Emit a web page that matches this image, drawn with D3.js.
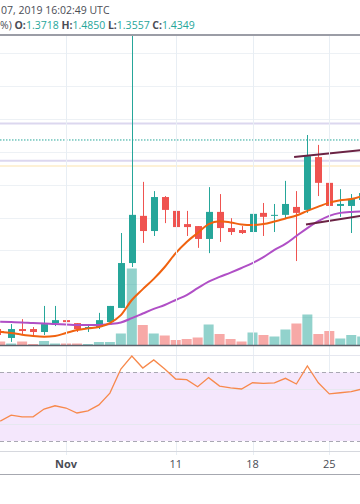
<!DOCTYPE html>
<html>
<head>
<meta charset="utf-8">
<script src="https://cdn.jsdelivr.net/npm/d3@7"></script>
<style>
  html, body { margin: 0; padding: 0; background: #fff; }
  svg { display: block; }
</style>
</head>
<body>
<div id="chart"></div>
<script>
// daily candles, Oct 26 .. Nov 28 2019
const dates = ["2019-10-26","2019-10-27","2019-10-28","2019-10-29","2019-10-30","2019-10-31",
  "2019-11-01","2019-11-02","2019-11-03","2019-11-04","2019-11-05","2019-11-06","2019-11-07",
  "2019-11-08","2019-11-09","2019-11-10","2019-11-11","2019-11-12","2019-11-13","2019-11-14",
  "2019-11-15","2019-11-16","2019-11-17","2019-11-18","2019-11-19","2019-11-20","2019-11-21",
  "2019-11-22","2019-11-23","2019-11-24","2019-11-25","2019-11-26","2019-11-27","2019-11-28"];
const open  = [0.856,0.835,0.862,0.862,0.853,0.880,0.889,0.880,0.865,0.868,0.883,0.926,1.062,
  1.205,1.159,1.262,1.220,1.180,1.174,1.135,1.217,1.168,1.162,1.156,1.214,1.205,1.208,
  1.232,1.223,1.383,1.305,1.235,1.235,1.253];
const high  = [0.862,0.877,0.892,0.868,0.932,0.932,0.895,0.880,0.874,0.911,0.932,1.153,1.820,
  1.308,1.280,1.265,1.247,1.220,1.174,1.292,1.271,1.198,1.174,1.256,1.244,1.241,1.311,
  1.280,1.450,1.420,1.326,1.286,1.271,1.290];
const low   = [0.844,0.823,0.844,0.844,0.844,0.871,0.874,0.853,0.853,0.862,0.883,0.926,1.050,
  1.123,1.144,1.183,1.168,1.144,1.108,1.092,1.126,1.147,1.150,1.153,1.144,1.156,1.195,
  1.068,1.214,1.265,1.198,1.202,1.153,1.240];
const close = [0.850,0.862,0.856,0.853,0.877,0.889,0.883,0.862,0.868,0.889,0.932,1.062,1.208,
  1.159,1.262,1.223,1.171,1.171,1.135,1.217,1.168,1.156,1.153,1.211,1.202,1.208,1.241,
  1.214,1.386,1.305,1.235,1.241,1.256,1.274];
const volume = [0.7,0.3,0.7,0.2,0.8,0.3,0.3,0.3,0.2,0.6,0.6,2.3,15.3,
  4.0,2.3,1.9,1.0,1.2,1.5,4.1,2.2,1.2,0.7,2.5,2.0,1.7,3.1,
  4.3,6.1,2.2,2.8,1.3,2.0,1.7];
// moving averages (orange fast, purple slow)
const maFast = [0.854,0.850,0.845,0.841,0.839,0.841,0.850,0.859,0.864,0.868,0.880,0.904,0.950,
  0.983,1.014,1.050,1.092,1.126,1.153,1.180,1.189,1.185,1.179,1.177,1.180,1.188,1.197,
  1.206,1.220,1.233,1.245,1.252,1.256,1.265];
const maSlow = [0.884,0.883,0.882,0.880,0.879,0.877,0.876,0.874,0.874,0.874,0.877,0.882,0.895,
  0.909,0.923,0.935,0.950,0.965,0.986,1.006,1.020,1.033,1.047,1.062,1.080,1.102,1.120,
  1.144,1.168,1.189,1.205,1.214,1.217,1.218];
const rsi = [41.6,45.1,44.1,44.1,48.6,50.5,49.2,46.3,47.6,51.0,57.9,71.9,79.5,
  72.5,77.2,71.9,66.1,65.7,61.6,66.9,62.0,60.9,60.3,63.9,63.6,63.9,66.5,
  63.2,73.7,63.9,57.4,58.1,58.7,60.3];

// price levels of the current bar
const levelHigh = 1.4850, levelOpen = 1.3718, levelLow = 1.3557, levelClose = 1.4349;
// channel lines [date, price]
const upperTrend = [["2019-11-21T19:00Z", 1.383], ["2019-11-29T00:00Z", 1.408]];
const lowerTrend = [["2019-11-22T21:00Z", 1.179], ["2019-11-29T00:00Z", 1.211]];

const priceTicks = [0.9, 1.0, 1.1, 1.2, 1.3, 1.4, 1.5, 1.6, 1.7];
const rsiGrid = [40, 60, 80];
const rsiBands = [30, 70];
const timeTicks = ["2019-11-01", "2019-11-11", "2019-11-18", "2019-11-25"];
const timeLabels = ["Nov", "11", "18", "25"];

const W = 360, H = 504;
const up = "#26a69a", down = "#ef5350";
const font = "'Open Sans', sans-serif";

const data = dates.map((d, i) => ({
  date: new Date(d + "T00:00Z"), o: open[i], h: high[i], l: low[i], c: close[i],
  v: volume[i], fast: maFast[i], slow: maSlow[i], rsi: rsi[i]
}));

const x = d3.scaleUtc()
  .domain([new Date("2019-11-01T00:00Z"), new Date("2019-11-25T00:00Z")])
  .range([66, 329.3]);
const y = d3.scaleLinear().domain([0.8, 1.8]).range([349.5, 19.5]);
const yVol = d3.scaleLinear().domain([0, 20]).range([345, 245]);
const yRsi = d3.scaleLinear().domain([30, 70]).range([441, 372.3]);

const paneTop = 36, paneBottom = 345, rsiTop = 347, rsiBottom = 451;

const svg = d3.select("#chart").append("svg")
  .attr("width", W).attr("height", H);

svg.append("rect").attr("width", W).attr("height", H).attr("fill", "#fff");

const defs = svg.append("defs");
defs.append("clipPath").attr("id", "main")
  .append("rect").attr("x", 0).attr("y", paneTop).attr("width", W).attr("height", paneBottom - paneTop);
defs.append("clipPath").attr("id", "rsiClip")
  .append("rect").attr("x", 0).attr("y", rsiTop).attr("width", W).attr("height", rsiBottom - rsiTop);

// header
const hdr = svg.append("g").attr("font-family", font).attr("font-size", 10.5).attr("fill", "#4a4c55");
hdr.append("text").attr("x", 1).attr("y", 14).text("07, 2019 16:02:49 UTC");
const t2 = hdr.append("text").attr("x", 0).attr("y", 29);
t2.append("tspan").text("%) ");
[["O:", "1.3718"], ["H:", "1.4850"], ["L:", "1.3557"], ["C:", "1.4349"]].forEach(([k, v], i) => {
  t2.append("tspan").attr("font-weight", "bold").text((i ? " " : "") + k);
  t2.append("tspan").attr("fill", up).text(v);
});

svg.append("line").attr("x1", 0).attr("x2", W).attr("y1", 35).attr("y2", 35)
  .attr("stroke", "#7a7d88").attr("stroke-width", 1.5);

// grid - main pane
const main = svg.append("g").attr("clip-path", "url(#main)");
main.append("g").selectAll("line").data(priceTicks).join("line")
  .attr("x1", 0).attr("x2", W)
  .attr("y1", d => Math.round(y(d)) + 0.5).attr("y2", d => Math.round(y(d)) + 0.5)
  .attr("stroke", "#edf1f5");
const tickDates = timeTicks.map(d => new Date(d + "T00:00Z"));
svg.append("g").selectAll("line").data(tickDates).join("line")
  .attr("x1", d => Math.round(x(d)) + 0.5).attr("x2", d => Math.round(x(d)) + 0.5)
  .attr("y1", paneTop).attr("y2", rsiBottom + 4)
  .attr("stroke", "#e8eef4");

// levels
const lev = main.append("g");
[levelHigh, levelOpen].forEach(p => lev.append("line")
  .attr("x1", 0).attr("x2", W).attr("y1", y(p)).attr("y2", y(p))
  .attr("stroke", "#dcd7ef").attr("stroke-width", 2));
lev.append("line").attr("x1", 0).attr("x2", W).attr("y1", y(levelLow)).attr("y2", y(levelLow))
  .attr("stroke", "#fdf1d6").attr("stroke-width", 2);
lev.append("line").attr("x1", 0).attr("x2", W).attr("y1", y(levelClose)).attr("y2", y(levelClose))
  .attr("stroke", up).attr("stroke-width", 1).attr("stroke-dasharray", "1.5,1.5");

// volume
main.append("g").selectAll("rect").data(data).join("rect")
  .attr("x", d => x(d.date) - 5).attr("width", 10)
  .attr("y", d => yVol(d.v)).attr("height", d => yVol(0) - yVol(d.v))
  .attr("fill", d => d.c >= d.o ? "rgba(38,166,154,0.5)" : "rgba(239,83,80,0.5)");

// candles
const candles = main.append("g").selectAll("g").data(data).join("g");
candles.append("line")
  .attr("x1", d => Math.round(x(d.date)) + 0.5).attr("x2", d => Math.round(x(d.date)) + 0.5)
  .attr("y1", d => y(d.h)).attr("y2", d => y(d.l))
  .attr("stroke", d => d.c >= d.o ? up : down);
candles.append("rect")
  .attr("x", d => Math.round(x(d.date)) - 3).attr("width", 7)
  .attr("y", d => y(Math.max(d.o, d.c)))
  .attr("height", d => Math.max(1, Math.abs(y(d.o) - y(d.c))))
  .attr("fill", d => d.c >= d.o ? up : down);

// moving averages
const lineFast = d3.line().x(d => x(d.date)).y(d => y(d.fast)).curve(d3.curveMonotoneX);
const lineSlow = d3.line().x(d => x(d.date)).y(d => y(d.slow)).curve(d3.curveMonotoneX);
main.append("path").datum(data).attr("d", lineSlow)
  .attr("fill", "none").attr("stroke", "#b04fc6").attr("stroke-width", 2);
main.append("path").datum(data).attr("d", lineFast)
  .attr("fill", "none").attr("stroke", "#f0620f").attr("stroke-width", 2);

// trend lines
[upperTrend, lowerTrend].forEach(t => main.append("line")
  .attr("x1", x(new Date(t[0][0]))).attr("y1", y(t[0][1]))
  .attr("x2", x(new Date(t[1][0]))).attr("y2", y(t[1][1]))
  .attr("stroke", "#6b2344").attr("stroke-width", 2));

// pane separator
svg.append("line").attr("x1", 0).attr("x2", W).attr("y1", 345.5).attr("y2", 345.5)
  .attr("stroke", "#5d606b").attr("stroke-width", 1.5);

// RSI pane
const r = svg.append("g").attr("clip-path", "url(#rsiClip)");
r.append("rect").attr("x", 0).attr("width", W)
  .attr("y", yRsi(70)).attr("height", yRsi(30) - yRsi(70))
  .attr("fill", "#f4e7fc");
r.append("g").selectAll("line").data(rsiGrid).join("line")
  .attr("x1", 0).attr("x2", W)
  .attr("y1", d => Math.round(yRsi(d)) + 0.5).attr("y2", d => Math.round(yRsi(d)) + 0.5)
  .attr("stroke", "#e6e8f0");
r.append("g").selectAll("line").data(rsiBands).join("line")
  .attr("x1", 0).attr("x2", W)
  .attr("y1", d => Math.round(yRsi(d)) + 0.5).attr("y2", d => Math.round(yRsi(d)) + 0.5)
  .attr("stroke", "#a9a8b3").attr("stroke-dasharray", "4,3");
r.append("path").datum(data)
  .attr("d", d3.line().x(d => x(d.date)).y(d => yRsi(d.rsi)))
  .attr("fill", "none").attr("stroke", "#f7894c").attr("stroke-width", 1.3);

svg.append("line").attr("x1", 0).attr("x2", W).attr("y1", rsiBottom + 0.5).attr("y2", rsiBottom + 0.5)
  .attr("stroke", "#d6d8de");

// time axis
const xAxis = svg.append("g").attr("font-family", font).attr("font-size", 11).attr("fill", "#4a4c55");
xAxis.selectAll("text").data(tickDates).join("text")
  .attr("x", d => x(d)).attr("y", 468).attr("text-anchor", "middle")
  .attr("font-weight", (d, i) => i === 0 ? "bold" : "normal")
  .text((d, i) => timeLabels[i]);
svg.append("line").attr("x1", 0).attr("x2", W).attr("y1", 474.5).attr("y2", 474.5)
  .attr("stroke", "#a6a8b0").attr("stroke-width", 1.2);
</script>
</body>
</html>
